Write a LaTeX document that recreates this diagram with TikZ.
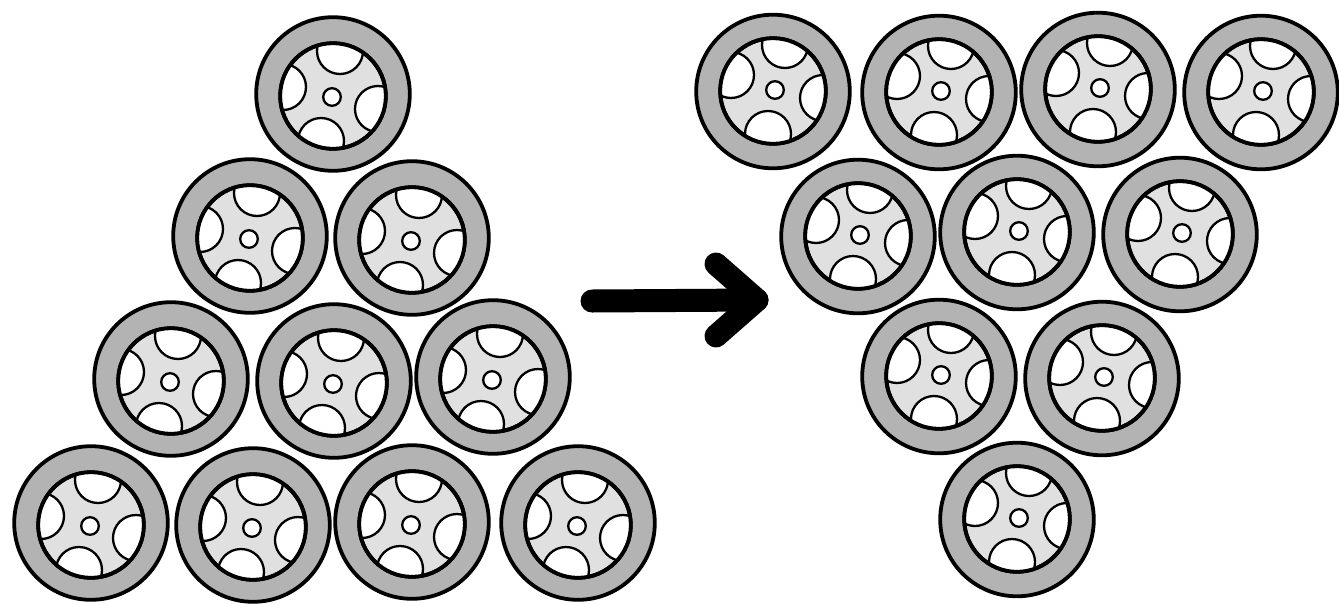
\documentclass[tikz,border=0pt]{standalone}
\definecolor{tirecol}{HTML}{B3B3B3}
\definecolor{rimcol}{HTML}{E0E0E0}
\def\holesbefore{8/-46,46/12,-11/44,-49/-10}
\def\holesafter{10/-45,48/8,-7/44,-44/-15}
\tikzset{
    wheeledge/.style={draw=black,line width=3.8pt},
    pics/wheel/.style n args={5}{code={
        \draw[wheeledge,fill=tirecol] (#1,#2-2) circle (76.8);
        \draw[wheeledge,fill=rimcol] (#3,#4) circle (52.8);
        \begin{scope}
            \clip (#3,#4) circle (52.8);
            \foreach \hx/\hy in #5
            {
                \draw[fill=white,line width=2.3pt] (\hx,\hy) circle (23);
            }
        \end{scope}
        \draw[wheeledge] (#3,#4) circle (52.8);
        \draw[fill=white,line width=2.3pt] (0,0) circle (8.8);
    }}
}
\begin{document}
\begin{tikzpicture}[x=1pt,y=-1pt]
    \useasboundingbox (0,0) rectangle (1339,603);
    \clip (0,0) rectangle (1339,603);
    % stack before
    \foreach \x/\y in {332/97,249/239,411/241,170/382,333/384,492/380,90/526,252/528,411/525,577/526}
    {
        \draw (\x,\y) pic {wheel={1}{-1}{1}{-1}{\holesbefore}};
    }
    % stack after
    \foreach \x/\y in {775/90,941/91,1100/88,1263/91,860/235,1019/231,1182/233,941/375,1104/377,1019/518}
    {
        \draw (\x,\y) pic {wheel={-2}{3.5}{-2}{1}{\holesafter}};
    }
    % arrow
    \coordinate (tail) at (592,301);
    \coordinate (tip) at (757,300);
    \coordinate (barbup) at (716,264);
    \coordinate (barbdown) at (716,336);
    \draw[line width=23pt,line cap=round] (tail) -- (tip);
    \draw[line width=23pt,line cap=round,line join=round] (barbup) -- (tip) -- (barbdown);
\end{tikzpicture}
\end{document}
